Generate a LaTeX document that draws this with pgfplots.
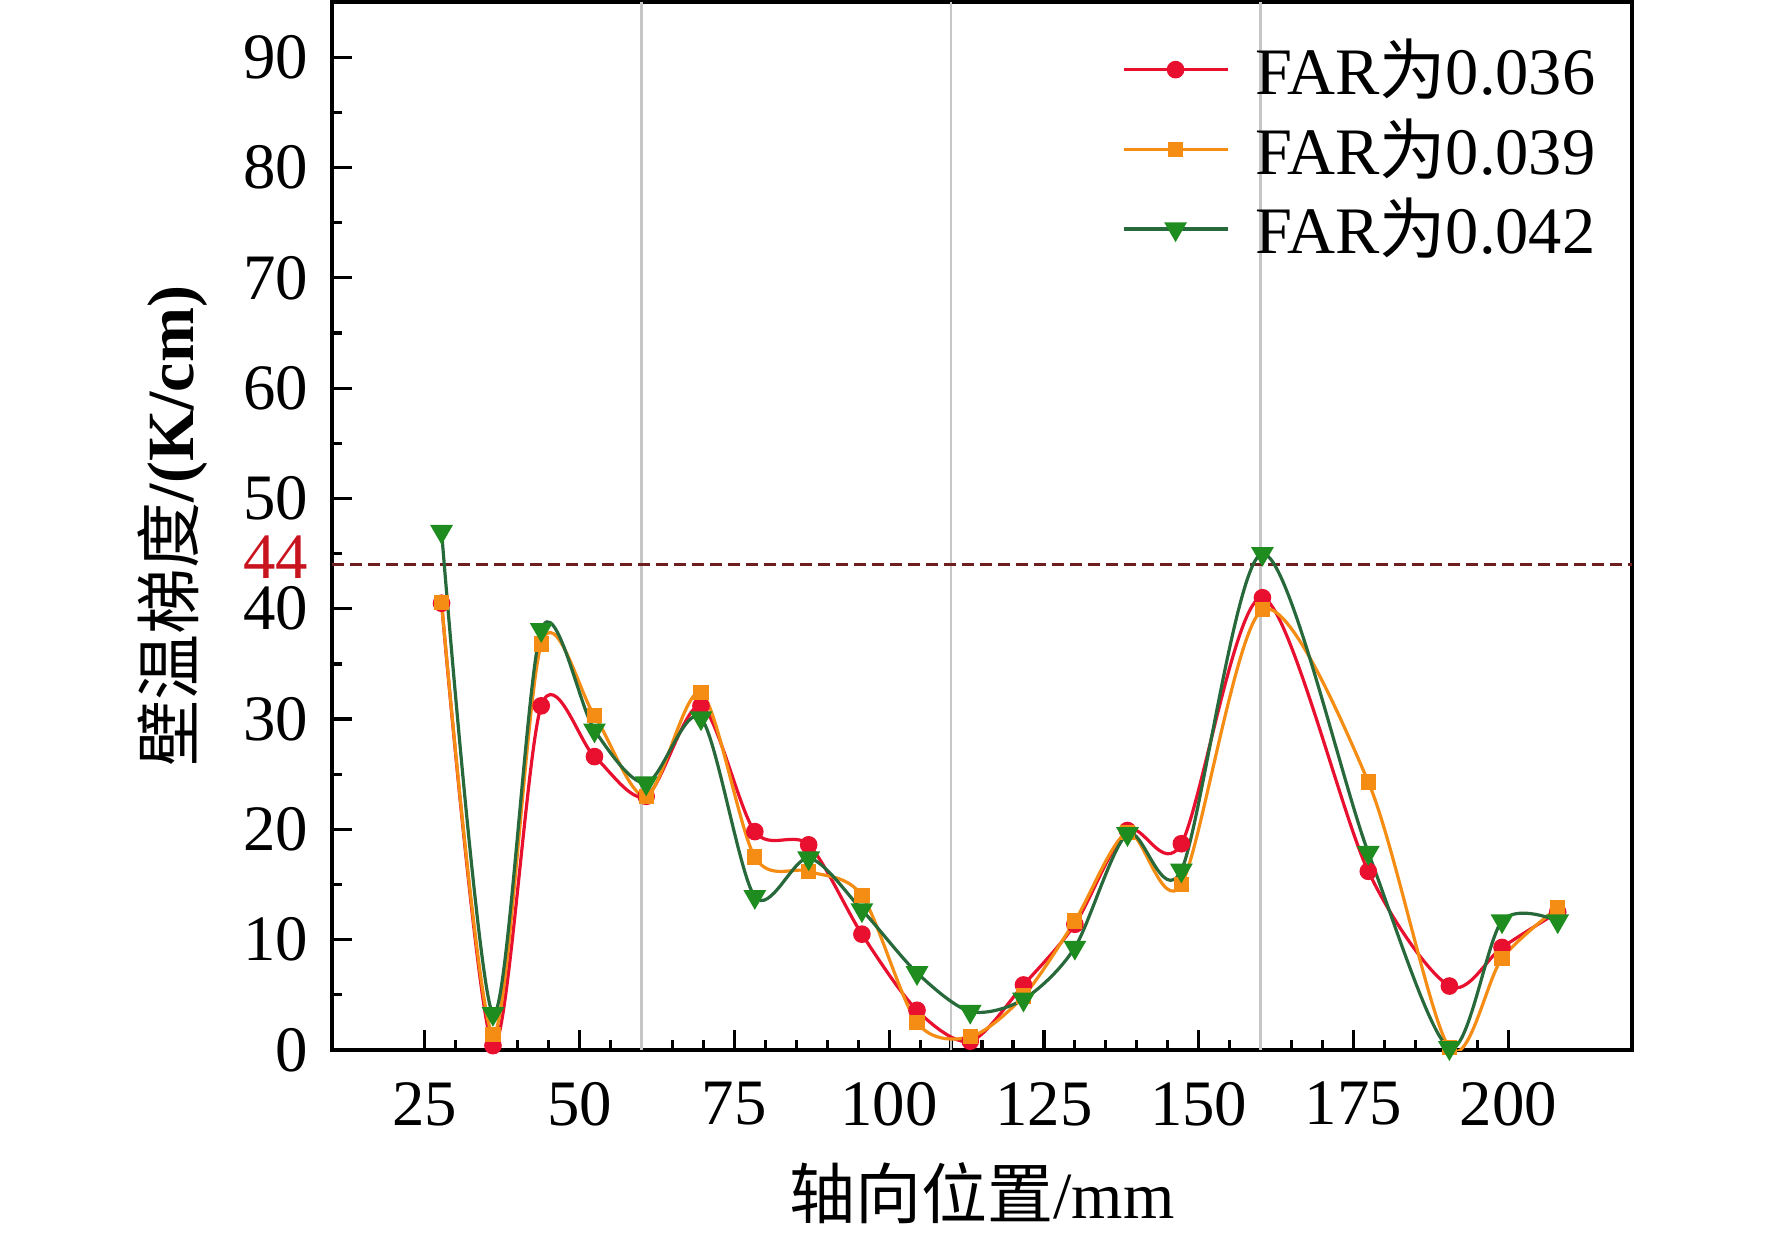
\documentclass[border=0pt]{standalone}
\usepackage{fontspec}
\setmainfont{Liberation Serif}
\newfontfamily\cjk{Noto Sans CJK SC}
\usepackage{pgfplots}
\pgfplotsset{compat=1.18}

\definecolor{cred}{RGB}{232,16,46}
\definecolor{corange}{RGB}{245,140,20}
\definecolor{cgreenl}{RGB}{40,105,60}
\definecolor{cgreenm}{RGB}{30,140,30}
\definecolor{cdash}{RGB}{110,30,30}
\definecolor{c44}{RGB}{200,20,30}

\begin{document}
\begin{tikzpicture}
\path[use as bounding box] (-83pt,-46.5pt) rectangle (360pt,262.5pt);
\begin{axis}[
  at={(0,0)}, anchor=south west,
  width=325pt, height=262pt, scale only axis,
  xmin=10, xmax=220, ymin=0, ymax=95,
  xtick={25,50,...,200}, minor x tick num=4,
  ytick={0,10,...,90}, minor y tick num=1,
  tick pos=left, tick align=inside,
  major tick length=5pt, minor tick length=2.5pt,
  axis line style={line width=0.9pt},
  every tick/.style={black, line width=0.8pt},
  /pgf/number format/assume math mode=true,
  ticklabel style={font=\fontsize{16.2}{19}\selectfont},
  xticklabel style={yshift=-4.5pt},
  yticklabel style={xshift=-2.5pt},
  extra y ticks={44},
  extra y tick labels={\textcolor{c44}{44}},
  extra y tick style={major tick length=0pt, grid=none, yticklabel style={yshift=1.8pt}},
  extra x ticks={60,110,160},
  extra x tick labels={},
  extra x tick style={grid=major, major grid style={draw=gray!45, line width=0.6pt}, major tick length=0pt},
  xlabel={{\cjk 轴向位置}/mm},
  ylabel={{\cjk 壁温梯度}\textbf{/(K/cm)}},
  label style={font=\fontsize{16.5}{19}\selectfont},
  xlabel style={at={(axis description cs:0.5,0)}, anchor=center, yshift=-35.8pt},
  ylabel style={at={(axis description cs:-0.1225,0.5)}, anchor=center},
  legend style={draw=none, fill=none, at={(1,1)}, anchor=north east, xshift=-4pt, yshift=-5pt,
    font=\fontsize{16.6}{19.5}\selectfont, row sep=0.5pt,
    /tikz/every odd column/.append style={column sep=4.5pt}},
  legend cell align=left,
  legend image code/.code={\draw[mark repeat=2,mark phase=2] plot coordinates {(0pt,0pt) (13pt,0pt) (26pt,0pt)};},
]
\addplot[cdash, dash pattern=on 3pt off 1.5pt, line width=0.7pt, forget plot] coordinates {(10,44) (220,44)};

\addplot[cred, line width=0.8pt, smooth, mark=*, mark size=1.8pt, mark options={fill=cred, draw=cred}] coordinates {
(27.7,40.5) (36.0,0.4) (43.8,31.2) (52.4,26.6) (60.75,23.0) (69.6,31.2) (78.3,19.8) (87.0,18.6) (95.6,10.5) (104.5,3.6) (113.1,0.8) (121.7,5.9) (130.0,11.4) (138.5,19.9) (147.2,18.7) (160.3,41.0) (177.4,16.2) (190.5,5.8) (199.0,9.3) (208.0,12.5)};
\addlegendentry{FAR{\cjk 为}0.036}

\addplot[corange, line width=0.8pt, smooth, mark=square*, mark size=1.5pt, mark options={fill=corange, draw=corange}] coordinates {
(27.7,40.6) (36.0,1.4) (43.8,36.8) (52.4,30.3) (60.75,23.0) (69.6,32.4) (78.3,17.5) (87.0,16.2) (95.6,14.0) (104.5,2.5) (113.1,1.2) (121.7,4.9) (130.0,11.7) (138.5,19.7) (147.2,15.0) (160.3,39.9) (177.4,24.3) (190.5,0.2) (199.0,8.3) (208.0,12.9)};
\addlegendentry{FAR{\cjk 为}0.039}

\addplot[cgreenl, line width=0.8pt, smooth, mark=triangle*, mark size=2.5pt, mark options={rotate=180, fill=cgreenm, draw=cgreenm}] coordinates {
(27.7,47.0) (36.0,3.3) (43.8,38.1) (52.4,29.0) (60.75,24.2) (69.6,30.1) (78.3,13.9) (87.0,17.4) (95.6,12.7) (104.5,7.0) (113.1,3.5) (121.7,4.6) (130.0,9.3) (138.5,19.6) (147.2,16.3) (160.3,45.0) (177.4,17.9) (190.5,0.2) (199.0,11.7) (208.0,11.7)};
\addlegendentry{FAR{\cjk 为}0.042}
\end{axis}
\end{tikzpicture}
\end{document}
